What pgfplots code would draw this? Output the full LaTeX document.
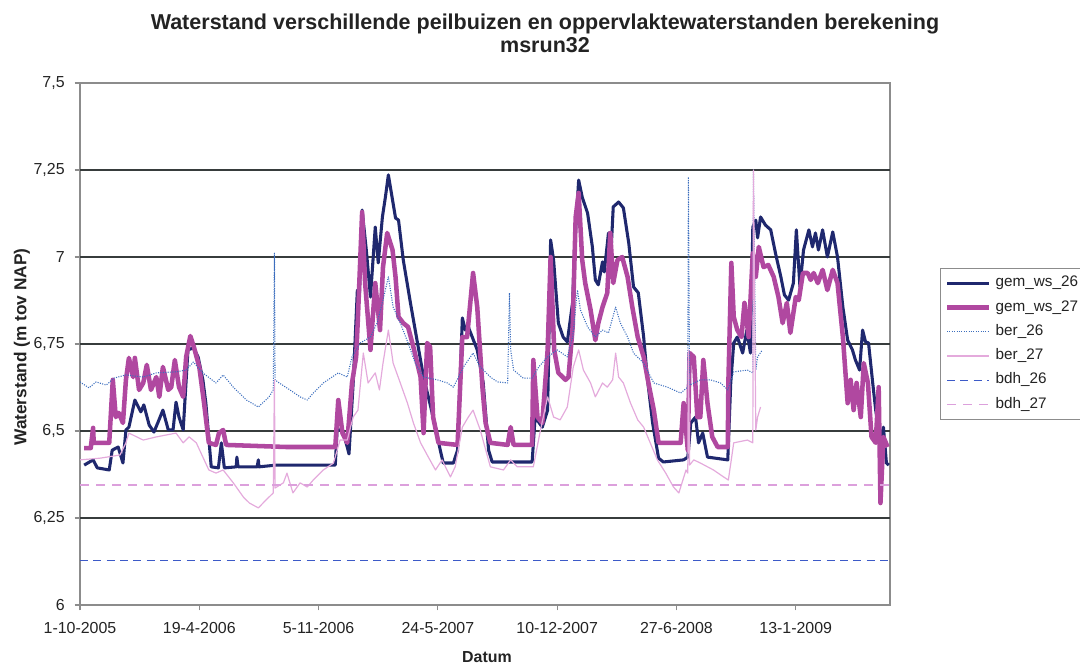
\documentclass[border=0pt]{standalone}
\usepackage{fontspec}
\setmainfont{Liberation Sans}
\usepackage{pgfplots}
\pgfplotsset{compat=1.18}

\definecolor{navy}{RGB}{31,40,110}
\definecolor{magen}{RGB}{176,72,160}
\definecolor{berblue}{RGB}{60,110,190}
\definecolor{berpink}{RGB}{228,170,220}
\definecolor{bdhblue}{RGB}{60,90,200}
\definecolor{bdhpink}{RGB}{220,160,220}
\definecolor{gridc}{RGB}{55,60,60}
\definecolor{framec}{RGB}{140,140,140}
\definecolor{txt}{RGB}{35,35,35}

\begin{document}
\begin{tikzpicture}
\node[font=\bfseries\fontsize{16.2}{17.25}\selectfont, align=center, text=txt]
  at (408.75bp,474.4bp) {Waterstand verschillende peilbuizen en oppervlaktewaterstanden berekening\\msrun32};
\begin{axis}[
  at={(60bp,45.75bp)}, anchor=south west,
  scale only axis, width=607.5bp, height=391.5bp,
  xmin=0, xmax=1358, ymin=6, ymax=7.5,
  xtick={0,200,400,600,800,1000,1200},
  xticklabels={1-10-2005,19-4-2006,5-11-2006,24-5-2007,10-12-2007,27-6-2008,13-1-2009},
  ytick={6,6.25,6.5,6.75,7,7.25,7.5},
  yticklabels={6,{6,25},{6,5},{6,75},7,{7,25},{7,5}},
  extra y ticks={6.25,6.5,6.75,7,7.25},
  extra y tick labels={},
  extra y tick style={ymajorgrids=true, major tick length=0pt},
  grid style={gridc, line width=1.1bp},
  axis line style={framec, line width=0.9bp},
  tick style={framec, line width=0.9bp},
  tick align=outside, major tick length=4bp,
  xtick pos=lower, ytick pos=left,
  tick label style={font=\fontsize{12}{14}\selectfont, text=txt},
  xticklabel style={yshift=-5.5bp},
  yticklabel style={xshift=-4bp},
  xlabel={Datum}, ylabel={Waterstand (m tov NAP)},
  xlabel style={font=\bfseries\fontsize{12}{14}\selectfont, text=txt,
    at={(axis description cs:0.5025,-0.0996)}, anchor=center},
  ylabel style={font=\bfseries\fontsize{13}{15}\selectfont, text=txt,
    at={(axis description cs:-0.0716,0.494)}, anchor=center},
  legend cell align=left,
  legend style={at={(axis description cs:1.062,0.646)}, anchor=north west,
    draw=framec, line width=0.8bp, font=\fontsize{11.5}{13}\selectfont, text=txt,
    nodes={text height=8.5bp, text depth=3bp, inner sep=3.35bp}, row sep=0pt},
  legend image code/.code={\draw[#1] (0bp,0bp) -- (31.5bp,0bp);},
  every axis plot/.append style={line join=round},
]
% gem_ws_26
\addplot[navy, line width=2.3bp] coordinates {
(7,6.402) (22,6.417) (29,6.394) (49,6.388) (54,6.445) (64,6.454) (72,6.408) (77,6.503)
(82,6.511) (92,6.589) (102,6.555) (107,6.575) (116,6.517) (124,6.497) (131,6.526) (139,6.560)
(148,6.503) (156,6.503) (161,6.583) (166,6.540) (173,6.503) (181,6.733) (190,6.739) (198,6.713)
(206,6.647) (211,6.580) (220,6.397) (232,6.394) (237,6.466) (242,6.394) (262,6.397) (263,6.425)
(265,6.397) (297,6.397) (299,6.417) (300,6.397) (329,6.402) (428,6.402) (431,6.503) (440,6.503)
(448,6.454) (451,6.434) (458,6.638) (465,6.905) (468,6.868) (473,7.135) (480,7.020) (487,6.885)
(495,7.086) (500,6.983) (507,7.115) (512,7.172) (517,7.236) (522,7.184) (529,7.112) (534,7.106)
(542,6.991) (554,6.868) (565,6.761) (576,6.655) (584,6.598) (596,6.511) (604,6.445) (609,6.408)
(626,6.408) (633,6.445) (641,6.825) (646,6.790) (651,6.799) (666,6.733) (676,6.638) (685,6.445)
(691,6.411) (717,6.411) (727,6.411) (758,6.411) (763,6.540) (775,6.511) (784,6.560) (789,7.049)
(794,6.991) (802,6.810) (810,6.770) (817,6.756) (826,6.871) (829,7.020) (836,7.221) (842,7.172)
(851,7.126) (859,7.029) (864,6.934) (869,6.920) (876,6.986) (879,6.957) (886,7.069) (891,7.040)
(894,7.144) (903,7.158) (911,7.141) (920,7.040) (928,6.914) (936,6.897) (945,6.770) (951,6.655)
(960,6.523) (970,6.422) (978,6.411) (1012,6.417) (1019,6.425) (1024,6.523) (1032,6.540) (1037,6.466)
(1044,6.494) (1052,6.425) (1086,6.417) (1091,6.638) (1096,6.753) (1102,6.770) (1111,6.724) (1118,6.790)
(1124,6.724) (1128,7.086) (1133,7.106) (1136,7.055) (1141,7.115) (1149,7.092) (1158,7.078) (1166,7.011)
(1175,6.943) (1181,6.891) (1188,6.876) (1196,6.925) (1201,7.078) (1207,6.914) (1213,7.020) (1222,7.078)
(1228,7.029) (1233,7.069) (1238,7.020) (1245,7.078) (1253,7.000) (1262,7.072) (1270,7.000) (1279,6.856)
(1287,6.761) (1295,6.733) (1300,6.704) (1307,6.675) (1312,6.790) (1317,6.756) (1322,6.753) (1329,6.638)
(1334,6.560) (1342,6.474) (1347,6.511) (1352,6.408) (1356,6.402)};
\addlegendentry{gem\_ws\_26}
% gem_ws_27
\addplot[magen, line width=3.4bp] coordinates {
(7,6.451) (18,6.451) (22,6.509) (23,6.466) (49,6.466) (55,6.647) (60,6.540) (65,6.552)
(72,6.523) (77,6.647) (82,6.710) (89,6.655) (92,6.710) (99,6.618) (106,6.638) (112,6.690)
(119,6.618) (128,6.655) (133,6.598) (139,6.684) (148,6.618) (153,6.626) (159,6.704) (166,6.626)
(173,6.598) (178,6.713) (185,6.773) (191,6.741) (200,6.684) (208,6.580) (216,6.466) (228,6.460)
(233,6.494) (240,6.503) (245,6.460) (346,6.454) (428,6.454) (433,6.589) (440,6.494) (448,6.466)
(456,6.638) (463,6.713) (466,6.828) (473,7.129) (478,6.925) (487,6.733) (495,6.925) (503,6.790)
(508,6.971) (515,7.069) (524,7.020) (529,6.943) (534,6.828) (542,6.810) (550,6.799) (559,6.741)
(571,6.655) (576,6.494) (582,6.753) (587,6.741) (592,6.540) (601,6.466) (633,6.460) (641,6.770)
(649,6.770) (659,6.954) (666,6.856) (675,6.618) (680,6.523) (688,6.466) (717,6.460) (722,6.511)
(727,6.460) (758,6.460) (760,6.704) (767,6.540) (775,6.523) (784,6.733) (789,7.000) (795,6.733)
(802,6.667) (814,6.647) (819,6.655) (826,6.799) (831,7.115) (836,7.184) (842,6.991) (847,6.925)
(856,6.848) (864,6.761) (869,6.810) (876,6.856) (884,6.897) (889,7.069) (894,6.925) (901,6.991)
(909,7.000) (918,6.943) (926,6.856) (935,6.770) (945,6.713) (953,6.638) (962,6.560) (970,6.466)
(1007,6.466) (1012,6.580) (1019,6.445) (1022,6.724) (1029,6.713) (1035,6.540) (1040,6.540) (1045,6.704)
(1052,6.580) (1060,6.483) (1069,6.454) (1086,6.454) (1087,6.638) (1092,6.983) (1096,6.828) (1102,6.790)
(1109,6.770) (1114,6.868) (1121,6.770) (1128,7.011) (1133,6.943) (1138,7.029) (1146,6.971) (1154,6.977)
(1163,6.943) (1171,6.885) (1178,6.810) (1185,6.868) (1191,6.782) (1200,6.885) (1205,6.876) (1212,6.954)
(1220,6.954) (1225,6.934) (1230,6.954) (1237,6.925) (1245,6.963) (1253,6.905) (1262,6.963) (1270,6.925)
(1279,6.770) (1287,6.580) (1292,6.647) (1297,6.560) (1302,6.638) (1309,6.540) (1314,6.695) (1321,6.638)
(1327,6.483) (1334,6.466) (1339,6.626) (1342,6.293) (1347,6.483) (1354,6.454)};
\addlegendentry{gem\_ws\_27}
% ber_26
\addplot[berblue, line width=0.8bp, densely dotted] coordinates {
(0,6.641) (15,6.624) (27,6.641) (44,6.632) (57,6.652) (77,6.661) (106,6.655) (128,6.667)
(161,6.670) (178,6.675) (190,6.698) (206,6.667) (228,6.638) (240,6.661) (257,6.626) (279,6.589)
(299,6.569) (317,6.598) (324,6.618) (326,7.011) (327,6.647) (334,6.638) (352,6.618) (369,6.598)
(381,6.589) (391,6.609) (408,6.638) (433,6.667) (448,6.655) (456,6.713) (470,6.753) (487,6.770)
(498,6.810) (508,6.876) (517,6.943) (525,6.856) (537,6.810) (550,6.753) (562,6.695) (576,6.655)
(599,6.647) (616,6.638) (626,6.626) (643,6.684) (659,6.724) (671,6.684) (688,6.655) (700,6.641)
(717,6.638) (720,6.897) (722,6.733) (727,6.675) (743,6.652) (758,6.652) (769,6.684) (784,6.713)
(800,6.733) (817,6.713) (826,6.770) (834,6.905) (839,6.848) (851,6.799) (864,6.770) (876,6.790)
(886,6.782) (898,6.856) (906,6.810) (918,6.770) (928,6.724) (945,6.695) (962,6.638) (985,6.626)
(1007,6.609) (1019,6.626) (1020,7.230) (1022,6.632) (1040,6.647) (1057,6.647) (1074,6.638) (1086,6.618)
(1096,6.670) (1119,6.675) (1128,6.667) (1129,7.250) (1133,6.675) (1136,6.713) (1144,6.733)};
\addlegendentry{ber\_26}
% ber_27
\addplot[berpink, line width=0.9bp] coordinates {
(0,6.417) (34,6.422) (67,6.431) (77,6.466) (82,6.494) (106,6.474) (128,6.483) (161,6.494)
(173,6.466) (183,6.483) (195,6.466) (206,6.425) (216,6.388) (228,6.379) (240,6.388) (257,6.351)
(274,6.310) (284,6.293) (299,6.279) (312,6.302) (324,6.322) (326,6.647) (327,6.336) (341,6.351)
(347,6.379) (357,6.322) (369,6.351) (381,6.339) (391,6.359) (408,6.388) (425,6.408) (436,6.474)
(448,6.474) (458,6.540) (466,6.560) (475,6.724) (483,6.638) (495,6.667) (502,6.618) (508,6.695)
(517,6.790) (525,6.695) (537,6.638) (549,6.580) (559,6.523) (571,6.466) (584,6.425) (596,6.388)
(607,6.417) (621,6.368) (629,6.397) (641,6.511) (651,6.540) (659,6.560) (671,6.503) (688,6.397)
(710,6.388) (722,6.417) (733,6.397) (760,6.397) (772,6.503) (784,6.598) (794,6.540) (805,6.532)
(817,6.569) (827,6.684) (836,6.733) (844,6.675) (856,6.638) (864,6.598) (876,6.638) (884,6.626)
(893,6.647) (898,6.724) (903,6.655) (911,6.638) (923,6.580) (935,6.532) (945,6.511) (956,6.466)
(968,6.417) (982,6.379) (995,6.339) (1004,6.322) (1016,6.388) (1019,6.379) (1020,6.733) (1022,6.402)
(1029,6.417) (1040,6.408) (1062,6.388) (1079,6.368) (1087,6.359) (1096,6.466) (1119,6.474) (1128,6.466)
(1129,7.250) (1133,6.503) (1136,6.540) (1141,6.569)};
\addlegendentry{ber\_27}
% bdh_26
\addplot[bdhblue, line width=0.9bp, dash pattern=on 6bp off 4bp] coordinates {(0,6.129) (1358,6.129)};
\addlegendentry{bdh\_26}
% bdh_27
\addplot[bdhpink, line width=1.2bp, dash pattern=on 7bp off 5bp] coordinates {(0,6.345) (1358,6.345)};
\addlegendentry{bdh\_27}
\end{axis}
\pgfresetboundingbox
\path[use as bounding box] (0bp,0bp) rectangle (810bp,499.5bp);
\end{tikzpicture}
\end{document}
